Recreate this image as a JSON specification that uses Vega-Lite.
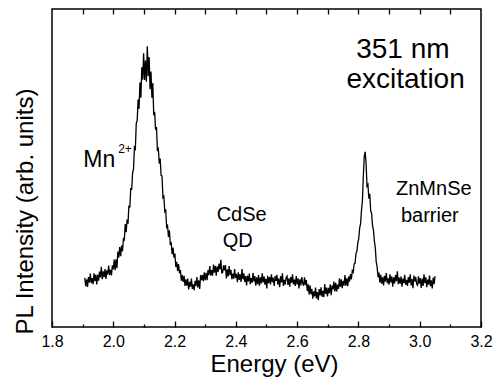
{
"$schema":"https://vega.github.io/schema/vega-lite/v6.json",
"width":429,"height":318,
"autosize":{"type":"none"},
"padding":{"left":52,"top":9,"right":14,"bottom":57},
"background":"white",
"config":{"view":{"stroke":"black","strokeWidth":1.5},"font":"Liberation Sans"},
"datasets":{
"spec":[
{"e":1.907,"i":15.5},{"e":1.910,"i":12.8},{"e":1.913,"i":15.0},{"e":1.916,"i":12.6},{"e":1.919,"i":15.7},{"e":1.922,"i":14.0},{"e":1.925,"i":16.8},{"e":1.928,"i":13.8},{"e":1.931,"i":15.4},{"e":1.934,"i":13.5},
{"e":1.937,"i":16.9},{"e":1.940,"i":14.4},{"e":1.943,"i":16.5},{"e":1.946,"i":13.4},{"e":1.949,"i":16.4},{"e":1.952,"i":14.6},{"e":1.955,"i":17.4},{"e":1.958,"i":15.6},{"e":1.961,"i":18.9},{"e":1.964,"i":15.0},
{"e":1.967,"i":17.5},{"e":1.970,"i":15.7},{"e":1.973,"i":18.2},{"e":1.976,"i":15.1},{"e":1.979,"i":17.8},{"e":1.982,"i":16.5},{"e":1.985,"i":19.3},{"e":1.988,"i":16.3},{"e":1.991,"i":18.0},{"e":1.994,"i":16.2},
{"e":1.997,"i":19.4},{"e":2.000,"i":18.1},{"e":2.003,"i":21.2},{"e":2.006,"i":17.9},{"e":2.009,"i":21.3},{"e":2.012,"i":18.5},{"e":2.015,"i":23.7},{"e":2.018,"i":21.9},{"e":2.021,"i":25.1},{"e":2.024,"i":22.3},
{"e":2.027,"i":25.6},{"e":2.030,"i":23.8},{"e":2.033,"i":27.7},{"e":2.036,"i":27.4},{"e":2.039,"i":32.4},{"e":2.042,"i":29.8},{"e":2.045,"i":33.8},{"e":2.048,"i":32.5},{"e":2.051,"i":38.2},{"e":2.054,"i":37.6},
{"e":2.057,"i":43.7},{"e":2.060,"i":43.1},{"e":2.063,"i":48.5},{"e":2.066,"i":49.7},{"e":2.069,"i":56.5},{"e":2.072,"i":56.0},{"e":2.075,"i":64.1},{"e":2.078,"i":64.9},{"e":2.081,"i":71.5},{"e":2.084,"i":68.6},
{"e":2.087,"i":76.9},{"e":2.090,"i":72.1},{"e":2.093,"i":81.7},{"e":2.096,"i":77.8},{"e":2.099,"i":86.1},{"e":2.102,"i":77.7},{"e":2.105,"i":83.8},{"e":2.108,"i":77.1},{"e":2.111,"i":88.3},{"e":2.114,"i":78.9},
{"e":2.117,"i":84.9},{"e":2.120,"i":74.8},{"e":2.123,"i":80.3},{"e":2.126,"i":72.1},{"e":2.129,"i":76.7},{"e":2.132,"i":66.6},{"e":2.135,"i":67.7},{"e":2.138,"i":62.0},{"e":2.141,"i":62.9},{"e":2.144,"i":55.7},
{"e":2.147,"i":56.1},{"e":2.150,"i":51.4},{"e":2.153,"i":53.0},{"e":2.156,"i":47.6},{"e":2.159,"i":47.5},{"e":2.162,"i":40.7},{"e":2.165,"i":41.1},{"e":2.168,"i":36.4},{"e":2.171,"i":37.0},{"e":2.174,"i":31.4},
{"e":2.177,"i":31.9},{"e":2.180,"i":28.3},{"e":2.183,"i":30.4},{"e":2.186,"i":26.1},{"e":2.189,"i":26.4},{"e":2.192,"i":22.9},{"e":2.195,"i":25.0},{"e":2.198,"i":21.8},{"e":2.201,"i":23.1},{"e":2.204,"i":18.9},
{"e":2.207,"i":20.5},{"e":2.210,"i":17.6},{"e":2.213,"i":19.8},{"e":2.216,"i":16.9},{"e":2.219,"i":17.9},{"e":2.222,"i":14.6},{"e":2.225,"i":16.3},{"e":2.228,"i":14.2},{"e":2.231,"i":16.1},{"e":2.234,"i":12.9},
{"e":2.237,"i":15.0},{"e":2.240,"i":13.0},{"e":2.243,"i":15.2},{"e":2.246,"i":11.8},{"e":2.249,"i":14.2},{"e":2.252,"i":12.7},{"e":2.255,"i":15.2},{"e":2.258,"i":12.0},{"e":2.261,"i":13.4},{"e":2.264,"i":11.6},
{"e":2.267,"i":14.5},{"e":2.270,"i":12.9},{"e":2.273,"i":15.7},{"e":2.276,"i":12.4},{"e":2.279,"i":14.7},{"e":2.282,"i":12.0},{"e":2.285,"i":16.3},{"e":2.288,"i":14.7},{"e":2.291,"i":16.4},{"e":2.294,"i":14.4},
{"e":2.297,"i":17.2},{"e":2.300,"i":14.7},{"e":2.303,"i":17.0},{"e":2.306,"i":14.7},{"e":2.309,"i":17.9},{"e":2.312,"i":16.3},{"e":2.315,"i":19.2},{"e":2.318,"i":16.2},{"e":2.321,"i":17.9},{"e":2.324,"i":16.1},
{"e":2.327,"i":19.6},{"e":2.330,"i":17.1},{"e":2.333,"i":19.2},{"e":2.336,"i":16.1},{"e":2.339,"i":19.1},{"e":2.342,"i":17.3},{"e":2.345,"i":19.9},{"e":2.348,"i":18.1},{"e":2.351,"i":21.1},{"e":2.354,"i":17.0},
{"e":2.357,"i":17.2},{"e":2.360,"i":19.4},{"e":2.363,"i":17.8},{"e":2.366,"i":19.5},{"e":2.369,"i":15.3},{"e":2.372,"i":18.1},{"e":2.375,"i":15.9},{"e":2.378,"i":19.2},{"e":2.381,"i":16.3},{"e":2.384,"i":18.0},
{"e":2.387,"i":15.0},{"e":2.390,"i":16.8},{"e":2.393,"i":15.2},{"e":2.396,"i":18.2},{"e":2.399,"i":15.4},{"e":2.402,"i":16.7},{"e":2.405,"i":14.1},{"e":2.408,"i":17.2},{"e":2.411,"i":14.8},{"e":2.414,"i":16.6},
{"e":2.417,"i":14.2},{"e":2.420,"i":18.2},{"e":2.423,"i":15.0},{"e":2.426,"i":16.9},{"e":2.429,"i":14.2},{"e":2.432,"i":16.0},{"e":2.435,"i":13.1},{"e":2.438,"i":16.2},{"e":2.441,"i":14.3},{"e":2.444,"i":16.8},
{"e":2.447,"i":13.5},{"e":2.450,"i":15.4},{"e":2.453,"i":13.9},{"e":2.456,"i":17.0},{"e":2.459,"i":14.3},{"e":2.462,"i":16.0},{"e":2.465,"i":13.0},{"e":2.468,"i":15.6},{"e":2.471,"i":13.5},{"e":2.474,"i":16.3},
{"e":2.477,"i":13.0},{"e":2.480,"i":15.6},{"e":2.483,"i":13.7},{"e":2.486,"i":16.9},{"e":2.489,"i":14.0},{"e":2.492,"i":15.9},{"e":2.495,"i":13.3},{"e":2.498,"i":15.2},{"e":2.501,"i":12.1},{"e":2.504,"i":16.1},
{"e":2.507,"i":13.8},{"e":2.510,"i":15.7},{"e":2.513,"i":13.4},{"e":2.516,"i":16.6},{"e":2.519,"i":14.1},{"e":2.522,"i":15.5},{"e":2.525,"i":12.9},{"e":2.528,"i":16.0},{"e":2.531,"i":14.5},{"e":2.534,"i":16.4},
{"e":2.537,"i":13.4},{"e":2.540,"i":15.2},{"e":2.543,"i":12.5},{"e":2.546,"i":16.0},{"e":2.549,"i":14.0},{"e":2.552,"i":16.9},{"e":2.555,"i":12.9},{"e":2.558,"i":14.8},{"e":2.561,"i":13.3},{"e":2.564,"i":15.6},
{"e":2.567,"i":16.0},{"e":2.570,"i":13.2},{"e":2.573,"i":15.3},{"e":2.576,"i":12.7},{"e":2.579,"i":15.7},{"e":2.582,"i":13.9},{"e":2.585,"i":16.6},{"e":2.588,"i":13.4},{"e":2.591,"i":14.9},{"e":2.594,"i":12.9},
{"e":2.597,"i":16.0},{"e":2.600,"i":13.4},{"e":2.603,"i":15.3},{"e":2.606,"i":12.1},{"e":2.609,"i":15.0},{"e":2.612,"i":13.1},{"e":2.615,"i":15.7},{"e":2.618,"i":13.8},{"e":2.621,"i":13.0},{"e":2.624,"i":15.6},
{"e":2.627,"i":13.2},{"e":2.630,"i":14.8},{"e":2.633,"i":11.3},{"e":2.636,"i":13.4},{"e":2.639,"i":10.2},{"e":2.642,"i":13.1},{"e":2.645,"i":10.3},{"e":2.648,"i":12.0},{"e":2.651,"i":8.9},{"e":2.654,"i":11.2},
{"e":2.657,"i":9.6},{"e":2.660,"i":12.4},{"e":2.663,"i":9.0},{"e":2.666,"i":11.0},{"e":2.669,"i":8.4},{"e":2.672,"i":11.9},{"e":2.675,"i":9.9},{"e":2.678,"i":12.5},{"e":2.681,"i":9.5},{"e":2.684,"i":11.4},
{"e":2.687,"i":9.4},{"e":2.690,"i":13.5},{"e":2.693,"i":10.4},{"e":2.696,"i":12.4},{"e":2.699,"i":9.6},{"e":2.702,"i":12.3},{"e":2.705,"i":10.6},{"e":2.708,"i":13.4},{"e":2.711,"i":10.0},{"e":2.714,"i":13.0},
{"e":2.717,"i":11.8},{"e":2.720,"i":14.3},{"e":2.723,"i":11.2},{"e":2.726,"i":13.9},{"e":2.729,"i":11.2},{"e":2.732,"i":13.3},{"e":2.735,"i":12.0},{"e":2.738,"i":15.3},{"e":2.741,"i":12.6},{"e":2.744,"i":15.0},
{"e":2.747,"i":12.2},{"e":2.750,"i":14.5},{"e":2.753,"i":13.0},{"e":2.756,"i":16.3},{"e":2.759,"i":13.0},{"e":2.762,"i":15.3},{"e":2.765,"i":12.8},{"e":2.768,"i":15.9},{"e":2.771,"i":14.3},{"e":2.774,"i":16.6},
{"e":2.777,"i":15.0},{"e":2.780,"i":17.7},{"e":2.783,"i":17.2},{"e":2.786,"i":19.8},{"e":2.789,"i":20.0},{"e":2.792,"i":23.1},{"e":2.795,"i":23.8},{"e":2.798,"i":26.5},{"e":2.801,"i":27.7},{"e":2.804,"i":31.1},
{"e":2.807,"i":32.5},{"e":2.810,"i":36.7},{"e":2.813,"i":39.7},{"e":2.816,"i":47.4},{"e":2.819,"i":53.7},{"e":2.822,"i":55.1},{"e":2.825,"i":51.5},{"e":2.828,"i":44.3},{"e":2.831,"i":44.8},{"e":2.834,"i":40.4},
{"e":2.837,"i":41.9},{"e":2.840,"i":36.6},{"e":2.843,"i":35.7},{"e":2.846,"i":31.9},{"e":2.849,"i":30.5},{"e":2.852,"i":27.1},{"e":2.855,"i":25.0},{"e":2.858,"i":20.5},{"e":2.861,"i":18.9},{"e":2.864,"i":15.7},
{"e":2.867,"i":17.1},{"e":2.870,"i":13.9},{"e":2.873,"i":16.4},{"e":2.876,"i":13.6},{"e":2.879,"i":15.7},{"e":2.882,"i":13.1},{"e":2.885,"i":16.1},{"e":2.888,"i":14.3},{"e":2.891,"i":17.0},{"e":2.894,"i":13.8},
{"e":2.897,"i":15.3},{"e":2.900,"i":13.3},{"e":2.903,"i":16.6},{"e":2.906,"i":14.0},{"e":2.909,"i":15.9},{"e":2.912,"i":12.7},{"e":2.915,"i":15.6},{"e":2.918,"i":13.7},{"e":2.921,"i":16.3},{"e":2.924,"i":14.4},
{"e":2.927,"i":17.5},{"e":2.930,"i":13.5},{"e":2.933,"i":15.5},{"e":2.936,"i":13.6},{"e":2.939,"i":15.9},{"e":2.942,"i":12.7},{"e":2.945,"i":15.2},{"e":2.948,"i":13.8},{"e":2.951,"i":16.4},{"e":2.954,"i":13.3},
{"e":2.957,"i":14.8},{"e":2.960,"i":12.9},{"e":2.963,"i":15.7},{"e":2.966,"i":13.9},{"e":2.969,"i":16.6},{"e":2.972,"i":13.1},{"e":2.975,"i":15.1},{"e":2.978,"i":12.2},{"e":2.981,"i":16.2},{"e":2.984,"i":14.3},
{"e":2.987,"i":15.8},{"e":2.990,"i":13.5},{"e":2.993,"i":13.1},{"e":2.996,"i":15.9},{"e":2.999,"i":13.6},{"e":3.002,"i":15.4},{"e":3.005,"i":12.3},{"e":3.008,"i":15.2},{"e":3.011,"i":12.9},{"e":3.014,"i":16.6},
{"e":3.017,"i":13.8},{"e":3.020,"i":15.6},{"e":3.023,"i":12.5},{"e":3.026,"i":14.9},{"e":3.029,"i":13.3},{"e":3.032,"i":16.2},{"e":3.035,"i":12.8},{"e":3.038,"i":14.7},{"e":3.041,"i":12.1},{"e":3.044,"i":15.5},
{"e":3.047,"i":13.5},{"e":3.050,"i":16.0}
],
"big":[{"e":2.945,"i":84.6,"t":"351 nm"},{"e":2.954,"i":75.2,"t":"excitation"}],
"lab":[{"e":2.419,"i":33.3,"t":"CdSe"},{"e":2.406,"i":25.2,"t":"QD"},{"e":3.046,"i":41.5,"t":"ZnMnSe"},{"e":3.033,"i":33.0,"t":"barrier"}],
"mn":[{"e":1.902,"i":50.3,"t":"Mn"}],
"sup":[{"e":2.016,"i":54.6,"t":"2+"}]
},
"layer":[
{"data":{"name":"spec"},
 "mark":{"type":"line","color":"black","strokeWidth":1.3},
 "encoding":{
  "x":{"field":"e","type":"quantitative","scale":{"domain":[1.8,3.2],"nice":false,"zero":false},
   "axis":{"orient":"bottom","values":[1.8,2.0,2.2,2.4,2.6,2.8,3.0,3.2],"format":".1f","tickSize":-6,"tickWidth":1.3,"tickColor":"black","domain":false,"grid":false,
    "labelFontSize":16,"labelColor":"black","labelFont":"Liberation Sans","labelPadding":12,"labelOverlap":false,"labelBound":false,"labelFlush":false,
    "title":"Energy (eV)","titleFontSize":24,"titleFontWeight":"normal","titleColor":"black","titleFont":"Liberation Sans","titleX":222,"titleY":44,"titleBaseline":"alphabetic"}},
  "y":{"field":"i","type":"quantitative","scale":{"domain":[0,100],"nice":false,"zero":false},
   "axis":{"orient":"left","labels":false,"ticks":false,"domain":false,"grid":false,
    "title":"PL Intensity (arb. units)","titleFontSize":24,"titleFontWeight":"normal","titleColor":"black","titleFont":"Liberation Sans","titleX":-20,"titleY":202,"titleBaseline":"alphabetic","titleAlign":"center","titleAngle":270}}
 }},
{"data":{"name":"big"},
 "mark":{"type":"text","fontSize":28,"align":"center","baseline":"alphabetic","font":"Liberation Sans","color":"black"},
 "encoding":{
  "x":{"field":"e","type":"quantitative","axis":{"orient":"top","values":[1.9,2.0,2.1,2.2,2.3,2.4,2.5,2.6,2.7,2.8,2.9,3.0,3.1],"labels":false,"tickSize":-5,"tickWidth":1.3,"tickColor":"black","domain":false,"grid":false,"title":null}},
  "y":{"field":"i","type":"quantitative","axis":null},
  "text":{"field":"t"}
 }},
{"data":{"name":"lab"},
 "mark":{"type":"text","fontSize":20,"align":"center","baseline":"alphabetic","font":"Liberation Sans","color":"black"},
 "encoding":{
  "x":{"field":"e","type":"quantitative","axis":{"orient":"bottom","values":[1.9,2.1,2.3,2.5,2.7,2.9,3.1],"labels":false,"tickSize":-3,"tickWidth":1.3,"tickColor":"black","domain":false,"grid":false,"title":null}},
  "y":{"field":"i","type":"quantitative","axis":null},
  "text":{"field":"t"}
 }},
{"data":{"name":"mn"},
 "mark":{"type":"text","fontSize":23,"align":"left","baseline":"alphabetic","font":"Liberation Sans","color":"black"},
 "encoding":{
  "x":{"field":"e","type":"quantitative","axis":null},
  "y":{"field":"i","type":"quantitative","axis":null},
  "text":{"field":"t"}
 }},
{"data":{"name":"sup"},
 "mark":{"type":"text","fontSize":12,"align":"left","baseline":"alphabetic","font":"Liberation Sans","color":"black"},
 "encoding":{
  "x":{"field":"e","type":"quantitative","axis":null},
  "y":{"field":"i","type":"quantitative","axis":null},
  "text":{"field":"t"}
 }}
],
"resolve":{"axis":{"x":"independent","y":"independent"}}
}
